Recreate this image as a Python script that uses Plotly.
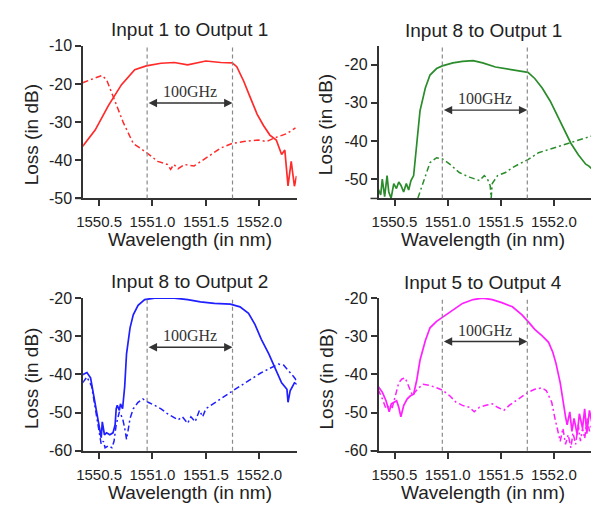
import plotly.graph_objects as go

# ---------------- data ----------------
# Panel 1: Input 1 to Output 1 (red)
p1_solid_x = [1550.345, 1550.463, 1550.587, 1550.71, 1550.834, 1550.942, 1551.08, 1551.205, 1551.33, 1551.5,
              1551.64, 1551.747, 1551.79, 1551.855, 1551.917, 1551.98, 1552.04, 1552.10, 1552.16, 1552.21,
              1552.24, 1552.27, 1552.30, 1552.33, 1552.35]
p1_solid_y = [-36.4, -32.1, -25.7, -20.2, -16.3, -15.3, -14.6, -14.4, -15.0, -14.0,
              -14.4, -14.5, -15.5, -19.3, -23.6, -27.9, -30.9, -33.4, -34.7, -38.5,
              -37.3, -46.7, -40.3, -46.8, -44.1]
p1_dash_x = [1550.345, 1550.43, 1550.525, 1550.57, 1550.65, 1550.725, 1550.82, 1550.94, 1551.05, 1551.14,
             1551.17, 1551.2, 1551.24, 1551.3, 1551.39, 1551.48, 1551.58, 1551.64, 1551.747, 1551.855,
             1551.99, 1552.07, 1552.13, 1552.26, 1552.34]
p1_dash_y = [-19.7, -18.9, -17.8, -18.9, -24.4, -30.0, -35.6, -37.9, -40.3, -41.1,
             -42.4, -41.1, -42.2, -41.1, -41.5, -39.8, -37.7, -36.8, -35.6, -35.1,
             -34.7, -35.1, -34.3, -33.0, -31.5]

# Panel 2: Input 8 to Output 1 (green)
p2_solid_x = [1550.345, 1550.37, 1550.385, 1550.407, 1550.43, 1550.446, 1550.468, 1550.493, 1550.518, 1550.54,
              1550.561, 1550.586, 1550.611, 1550.633, 1550.655, 1550.68, 1550.71, 1550.74, 1550.79, 1550.834,
              1550.896, 1550.95, 1551.05, 1551.14, 1551.24, 1551.33, 1551.45, 1551.58, 1551.70, 1551.756,
              1551.82, 1551.89, 1551.965, 1552.04, 1552.10, 1552.16, 1552.23, 1552.27, 1552.30, 1552.33,
              1552.36]
p2_solid_y = [-52.5, -54.2, -50.0, -54.6, -49.1, -53.4, -55.0, -51.2, -52.5, -50.8,
              -51.7, -53.4, -51.2, -52.9, -50.4, -49.1, -40.6, -32.1, -26.1, -22.7,
              -21.0, -20.3, -19.5, -19.1, -18.9, -19.5, -20.6, -21.2, -21.6, -22.0,
              -23.6, -26.1, -29.5, -33.8, -37.2, -40.6, -43.6, -44.9, -46.1, -46.6,
              -47.4]
p2_dash_x = [1550.72, 1550.77, 1550.834, 1550.896, 1550.95, 1551.02, 1551.11, 1551.205, 1551.3, 1551.345,
             1551.375, 1551.40, 1551.41, 1551.42, 1551.47, 1551.545, 1551.61, 1551.67, 1551.756, 1551.855,
             1551.95, 1552.04, 1552.13, 1552.257, 1552.356]
p2_dash_y = [-55.0, -50.8, -45.7, -44.4, -44.7, -46.1, -48.3, -49.5, -50.4, -49.1,
             -50.0, -51.7, -55.0, -51.2, -49.1, -48.3, -47.0, -46.1, -44.9, -43.1,
             -42.3, -41.4, -40.6, -39.6, -38.7]

# Panel 3: Input 8 to Output 2 (blue)
p3_solid_x = [1550.345, 1550.386, 1550.42, 1550.45, 1550.48, 1550.5, 1550.52, 1550.53, 1550.55, 1550.57,
              1550.60, 1550.63, 1550.65, 1550.66, 1550.67, 1550.69, 1550.70, 1550.72, 1550.74, 1550.757,
              1550.79, 1550.82, 1550.865, 1550.927, 1551.02, 1551.205, 1551.33, 1551.45, 1551.58, 1551.73,
              1551.82, 1551.90, 1551.96, 1552.02, 1552.09, 1552.15, 1552.21, 1552.26, 1552.27, 1552.29,
              1552.33, 1552.356]
p3_solid_y = [-40.1, -39.5, -40.9, -45.6, -49.8, -53.2, -56.6, -52.4, -55.8, -55.3,
              -55.8, -55.3, -53.2, -49.0, -48.1, -49.4, -47.7, -49.0, -43.1, -34.6,
              -27.8, -24.4, -21.9, -20.4, -20.0, -20.0, -20.4, -21.0, -21.4, -21.6,
              -22.3, -24.0, -26.9, -30.8, -34.6, -38.4, -42.2, -43.9, -47.3, -44.3,
              -42.2, -42.6]
p3_dash_x = [1550.345, 1550.386, 1550.43, 1550.46, 1550.49, 1550.52, 1550.54, 1550.556, 1550.587, 1550.62,
             1550.64, 1550.66, 1550.69, 1550.72, 1550.74, 1550.757, 1550.77, 1550.79, 1550.82, 1550.865,
             1550.91, 1550.96, 1551.02, 1551.08, 1551.14, 1551.19, 1551.24, 1551.28, 1551.33, 1551.36,
             1551.40, 1551.44, 1551.47, 1551.50, 1551.545, 1551.64, 1551.73, 1551.82, 1551.92, 1552.01,
             1552.10, 1552.18, 1552.23, 1552.27, 1552.32, 1552.356]
p3_dash_y = [-42.2, -40.7, -43.1, -48.1, -54.1, -58.3, -57.5, -59.2, -58.7, -59.2,
             -57.5, -53.2, -49.8, -51.5, -54.1, -57.0, -54.9, -51.5, -49.0, -47.3,
             -46.4, -47.3, -48.1, -49.0, -50.3, -51.1, -51.9, -51.1, -52.8, -51.1,
             -52.4, -49.4, -51.1, -49.0, -48.1, -46.4, -44.7, -43.1, -41.4, -39.7,
             -38.4, -37.3, -37.6, -38.8, -40.5, -41.8]

# Panel 4: Input 5 to Output 4 (magenta)
p4_solid_x = [1550.345, 1550.386, 1550.42, 1550.45, 1550.47, 1550.49, 1550.52, 1550.54, 1550.56, 1550.587,
              1550.62, 1550.65, 1550.68, 1550.71, 1550.74, 1550.79, 1550.834, 1550.896, 1550.95, 1551.05,
              1551.14, 1551.24, 1551.33, 1551.42, 1551.51, 1551.61, 1551.70, 1551.756, 1551.82, 1551.89,
              1551.95, 1551.99, 1552.02, 1552.06, 1552.09, 1552.11, 1552.125, 1552.15, 1552.17, 1552.19,
              1552.22, 1552.24, 1552.27, 1552.29, 1552.31, 1552.335, 1552.356]
p4_solid_y = [-43.1, -44.7, -46.9, -49.8, -47.7, -47.3, -46.9, -48.6, -51.1, -48.1,
              -46.4, -45.6, -45.2, -41.4, -36.3, -31.2, -27.8, -26.1, -25.1, -23.1,
              -21.4, -20.4, -20.0, -20.4, -21.2, -22.3, -24.4, -26.1, -28.2, -29.9,
              -31.6, -34.2, -37.1, -42.2, -48.1, -51.1, -53.2, -49.8, -54.9, -51.5,
              -55.8, -50.3, -54.1, -49.0, -55.5, -49.4, -52.4]
p4_dash_x = [1550.345, 1550.386, 1550.42, 1550.45, 1550.48, 1550.51, 1550.54, 1550.57, 1550.60, 1550.62,
             1550.65, 1550.67, 1550.69, 1550.73, 1550.77, 1550.834, 1550.896, 1550.95, 1551.02, 1551.08,
             1551.14, 1551.205, 1551.25, 1551.30, 1551.36, 1551.42, 1551.47, 1551.53, 1551.58, 1551.64,
             1551.70, 1551.756, 1551.82, 1551.89, 1551.93, 1551.98, 1552.01, 1552.04, 1552.06, 1552.085,
             1552.11, 1552.135, 1552.16, 1552.18, 1552.205, 1552.23, 1552.25, 1552.27, 1552.29, 1552.315,
             1552.335, 1552.356]
p4_dash_y = [-43.9, -46.4, -49.0, -48.1, -48.6, -45.6, -42.2, -41.2, -40.9, -42.2,
             -44.3, -45.6, -44.7, -43.5, -42.6, -42.9, -43.5, -44.1, -45.6, -47.3,
             -48.1, -48.6, -49.8, -48.6, -48.1, -47.7, -48.6, -49.4, -48.1, -46.9,
             -45.6, -44.7, -43.9, -43.5, -44.3, -47.3, -51.5, -54.9, -57.5, -54.1,
             -58.3, -55.8, -59.2, -55.3, -58.3, -53.2, -57.5, -54.1, -56.8, -51.5,
             -54.9, -53.2]

titles = ["Input 1 to Output 1", "Input 8 to Output 1", "Input 8 to Output 2", "Input 5 to Output 4"]
colors = ["#ff2a2a", "#2a8c2a", "#1f1fff", "#ff1fff"]
x_ticks = [1550.5, 1551.0, 1551.5, 1552.0]
x_ticktext = ["1550.5", "1551.0", "1551.5", "1552.0"]
y_ticks = [[-10, -20, -30, -40, -50], [-20, -30, -40, -50], [-20, -30, -40, -50, -60], [-20, -30, -40, -50, -60]]
y_ranges = [[-50, -10], [-55.1, -15], [-60, -20], [-60, -20]]
x_range = [1550.35, 1552.35]
channel_edges = [1550.95, 1551.75]
arrow_y = [-25.0, -31.9, -32.9, -31.4]
label_text = "100GHz"

solids = [(p1_solid_x, p1_solid_y), (p2_solid_x, p2_solid_y), (p3_solid_x, p3_solid_y), (p4_solid_x, p4_solid_y)]
dashes = [(p1_dash_x, p1_dash_y), (p2_dash_x, p2_dash_y), (p3_dash_x, p3_dash_y), (p4_dash_x, p4_dash_y)]

# ---------------- layout geometry ----------------
W, H = 595, 512
x_doms = [[77 / W, 293 / W], [376 / W, 591 / W]]
y_doms = [[(H - 197) / H, (H - 39) / H], [(H - 458) / H, (H - 300) / H]]
FONT = "Arial, Liberation Sans, sans-serif"
TXT = "#222222"

fig = go.Figure()
layout = dict(width=W, height=H, margin=dict(l=0, r=0, t=0, b=0),
              paper_bgcolor="white", plot_bgcolor="white", showlegend=False,
              font=dict(family=FONT, color=TXT))
annotations = []
shapes = []

for i in range(4):
    row, col = divmod(i, 2)
    n = "" if i == 0 else str(i + 1)
    xa, ya = "x" + n, "y" + n
    fig.add_trace(go.Scatter(x=solids[i][0], y=solids[i][1], mode="lines", xaxis=xa, yaxis=ya,
                             line=dict(color=colors[i], width=1.7)))
    fig.add_trace(go.Scatter(x=dashes[i][0], y=dashes[i][1], mode="lines", xaxis=xa, yaxis=ya,
                             line=dict(color=colors[i], width=1.5, dash="6px,3px,2px,3px")))
    layout["xaxis" + n] = dict(domain=x_doms[col], anchor=ya, range=x_range, tickvals=x_ticks,
                               ticktext=x_ticktext, ticks="outside", ticklen=6, tickwidth=1.5,
                               tickcolor="#333", showline=True, linecolor="#333", linewidth=1.5,
                               showgrid=False, zeroline=False, ticklabelstandoff=3,
                               tickfont=dict(size=15, color=TXT))
    layout["yaxis" + n] = dict(domain=y_doms[row], anchor=xa, range=y_ranges[i], tickvals=y_ticks[i],
                               ticktext=[str(v) for v in y_ticks[i]], ticks="outside", ticklen=6,
                               tickwidth=1.5, tickcolor="#333", showline=True, linecolor="#333",
                               linewidth=1.5, showgrid=False, zeroline=False,
                               tickfont=dict(size=16, color=TXT))
    # extend x-axis line slightly left of y axis
    shapes.append(dict(type="line", xref=xa + " domain", yref=ya + " domain", x0=-0.038, x1=0,
                       y0=0, y1=0, line=dict(color="#333", width=1.5)))
    for e in channel_edges:
        shapes.append(dict(type="line", xref=xa, yref=ya + " domain", x0=e, x1=e, y0=0, y1=1,
                           line=dict(color="#8a8a8a", width=1.2, dash="4px,3px")))
    annotations.append(dict(x=channel_edges[1], y=arrow_y[i], ax=channel_edges[0], ay=arrow_y[i],
                            xref=xa, yref=ya, axref=xa, ayref=ya, text="", showarrow=True,
                            arrowhead=2, arrowside="end+start", arrowsize=1.2, arrowwidth=1.4,
                            arrowcolor="#333", standoff=0, startstandoff=0))
    annotations.append(dict(x=sum(channel_edges) / 2, y=arrow_y[i], xref=xa, yref=ya, text=label_text,
                            showarrow=False, yanchor="bottom", yshift=1,
                            font=dict(family="Liberation Serif, Times New Roman, serif", size=16,
                                      color="#333")))
    cx = [185, 482][col]
    title_y = [22, 23, 283, 284][i]
    annotations.append(dict(x=cx / W, y=1 - title_y / H, xref="paper", yref="paper", text=titles[i],
                            showarrow=False, xanchor="center", yanchor="middle",
                            font=dict(size=19, color=TXT)))
    xt_y = [239, 239, 501, 501][i]
    annotations.append(dict(x=cx / W, y=1 - xt_y / H, xref="paper", yref="paper",
                            text="Wavelength (in nm)", showarrow=False, xanchor="center",
                            yanchor="middle", font=dict(size=19, color=TXT)))
    yt_x = [25, 323, 25, 323][i]
    yt_y = [131, 121, 383, 384][i]
    annotations.append(dict(x=yt_x / W, y=1 - yt_y / H, xref="paper", yref="paper",
                            text="Loss (in dB)", showarrow=False, textangle=-90, xanchor="center",
                            yanchor="middle", font=dict(size=19, color=TXT)))

layout["annotations"] = annotations
layout["shapes"] = shapes
fig.update_layout(**layout)
fig.write_html("out.html")
